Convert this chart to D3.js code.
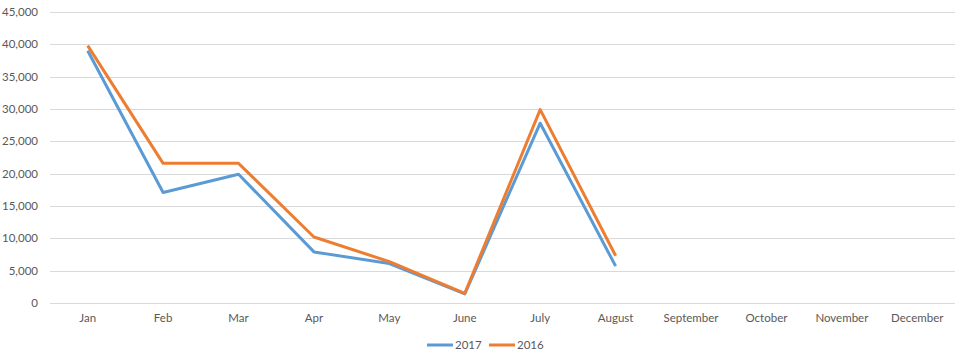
<!DOCTYPE html>
<html>
<head>
<meta charset="utf-8">
<script src="https://cdn.jsdelivr.net/npm/d3@7"></script>
<style>
  body { margin: 0; background: #fff; }
  text { font-family: Lato, "Open Sans", sans-serif; fill: #595959; }
</style>
</head>
<body>
<div id="chart-area"></div>
<script>
// chart data
var months = ['Jan', 'Feb', 'Mar', 'Apr', 'May', 'June', 'July', 'August',
  'September', 'October', 'November', 'December'];
var values2017 = [39000, 17100, 19900, 7900, 6100, 1400, 27800, 5700];
var values2016 = [39800, 21600, 21600, 10200, 6400, 1500, 29900, 7300];
var yTicks = [0, 5000, 10000, 15000, 20000, 25000, 30000, 35000, 40000, 45000];

var series = [
  { name: '2017', values: values2017, color: '#5B9BD5' },
  { name: '2016', values: values2016, color: '#ED7D31' }
];

var width = 965;
var height = 363;
var margin = { left: 50, right: 10, top: 12, bottom: 60 };

var svg = d3.select('#chart-area')
  .append('svg')
    .attr('width', width)
    .attr('height', height);

var x = d3.scaleBand()
  .domain(months)
  .range([margin.left, width - margin.right]);

var y = d3.scaleLinear()
  .domain([0, 45000])
  .range([height - margin.bottom, margin.top]);

// horizontal gridlines
svg.append('g')
  .selectAll('line')
  .data(yTicks)
  .enter()
  .append('line')
    .attr('x1', margin.left)
    .attr('x2', width - margin.right)
    .attr('y1', d => Math.round(y(d)) + 0.5)
    .attr('y2', d => Math.round(y(d)) + 0.5)
    .attr('stroke', '#d9d9d9')
    .attr('stroke-width', 1);

// y axis labels
svg.append('g')
  .selectAll('text')
  .data(yTicks)
  .enter()
  .append('text')
    .attr('x', 38)
    .attr('y', d => y(d))
    .attr('dy', '0.35em')
    .attr('text-anchor', 'end')
    .attr('font-size', '11.5px')
    .text(d3.format(','));

// x axis labels
svg.append('g')
  .selectAll('text')
  .data(months)
  .enter()
  .append('text')
    .attr('x', d => x(d) + x.bandwidth() / 2)
    .attr('y', y(0) + 19)
    .attr('text-anchor', 'middle')
    .attr('font-size', '11.5px')
    .text(d => d);

// the lines
var line = d3.line()
  .x((d, i) => x(months[i]) + x.bandwidth() / 2)
  .y(d => y(d));

svg.selectAll('.series')
  .data(series)
  .enter()
  .append('path')
    .attr('class', 'series')
    .attr('d', d => line(d.values))
    .attr('fill', 'none')
    .attr('stroke', d => d.color)
    .attr('stroke-width', 3)
    .attr('stroke-linejoin', 'round');

// legend
var legend = svg.append('g')
  .attr('transform', 'translate(427, 345)');

var items = legend.selectAll('g')
  .data(series)
  .enter()
  .append('g')
    .attr('transform', (d, i) => `translate(${i * 62}, 0)`);

items.append('line')
  .attr('x1', 0)
  .attr('x2', 26)
  .attr('stroke', d => d.color)
  .attr('stroke-width', 3);

items.append('text')
  .attr('x', 28)
  .attr('dy', '0.35em')
  .attr('font-size', '11.5px')
  .text(d => d.name);
</script>
</body>
</html>
